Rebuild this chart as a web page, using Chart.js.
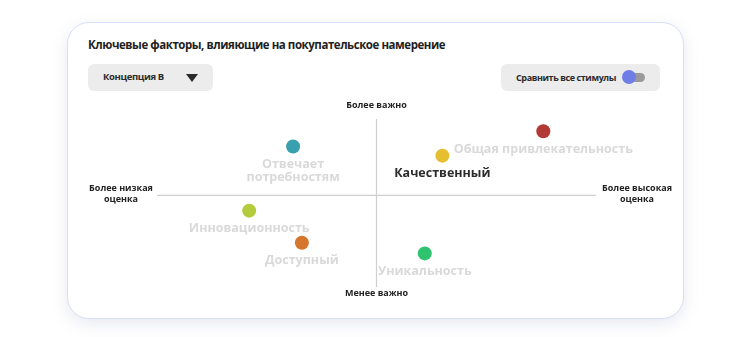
<!DOCTYPE html>
<html>
<head>
<meta charset="utf-8">
<script src="https://cdn.jsdelivr.net/npm/chart.js@4.4.1/dist/chart.umd.min.js"></script>
<style>
  html, body { margin: 0; padding: 0; background: #fff; width: 750px; height: 337px; overflow: hidden; }
  body { font-family: "Open Sans", "Noto Sans", sans-serif; position: relative; }
  .card {
    position: absolute; left: 67px; top: 22px; width: 615px; height: 295px;
    border: 1.5px solid #d8def8; border-radius: 22px; background: #fff;
    box-shadow: 0 5px 16px rgba(110, 120, 170, 0.16);
  }
  .title { position: absolute; left: 20px; top: 14px; font-size: 11.5px; font-weight: 700; color: #1e1e1e; letter-spacing: -0.45px; }
  .btn { position: absolute; top: 41px; height: 27px; background: #ececec; border-radius: 6px; }
  .drop { left: 20px; width: 125px; }
  .drop span { position: absolute; left: 15px; top: 6px; font-size: 9.5px; font-weight: 700; color: #2a2a2a; letter-spacing: -0.35px; }
  .drop i { position: absolute; left: 98px; top: 10px; width: 0; height: 0; border-left: 6px solid transparent; border-right: 6px solid transparent; border-top: 8px solid #2a2a2a; }
  .cmp { left: 433px; width: 159px; }
  .cmp span { position: absolute; left: 15px; top: 7px; font-size: 9px; font-weight: 700; color: #2a2a2a; letter-spacing: -0.4px; }
  .track { position: absolute; left: 124px; top: 9px; width: 20px; height: 9px; border-radius: 5px; background: #9a9a9a; }
  .knob { position: absolute; left: 121px; top: 6px; width: 14px; height: 14px; border-radius: 7px; background: #6f7ee6; }
  .wrap { position: absolute; left: 0; top: 73px; width: 615px; height: 221px; }
</style>
</head>
<body>
<div class="card">
  <div class="title">Ключевые факторы, влияющие на покупательское намерение</div>
  <div class="btn drop"><span>Концепция B</span><i></i></div>
  <div class="btn cmp"><span>Сравнить все стимулы</span><div class="track"></div><div class="knob"></div></div>
  <div class="wrap"><canvas id="quad"></canvas></div>
</div>
<script>
// factors: x = оценка, y = важность
const factors = [['Отвечает', 'потребностям'], ['Качественный'], ['Общая привлекательность'], ['Инновационность'], ['Доступный'], ['Уникальность']];
const scoreValues = [-1.9, 1.5, 3.8, -2.9, -1.7, 1.1];
const importanceValues = [3.2, 2.6, 4.2, -1.0, -3.1, -3.8];
const pointColors = ['#3a9fae', '#e6bf30', '#b13a35', '#b4cb3b', '#d5762c', '#2fc36f'];
const highlighted = 'Качественный';
const axisLabels = { top: ['Более важно'], bottom: ['Менее важно'], left: ['Более низкая', 'оценка'], right: ['Более высокая', 'оценка'] };

const FONT = '"Open Sans", "Noto Sans", sans-serif';

// quadrant lines, axis captions and point labels
const quadrantPlugin = {
    id: 'quadrant',
    beforeDatasetsDraw(chart) {
        const { ctx, chartArea: a, scales } = chart;
        const cx = scales.x.getPixelForValue(0);
        const cy = scales.y.getPixelForValue(0);
        ctx.save();
        ctx.strokeStyle = '#cfcfcf';
        ctx.lineWidth = 1.2;
        ctx.beginPath();
        ctx.moveTo(a.left, cy); ctx.lineTo(a.right, cy);
        ctx.moveTo(cx, a.top); ctx.lineTo(cx, a.bottom);
        ctx.stroke();

        ctx.fillStyle = '#222';
        ctx.font = '700 9px ' + FONT;
        ctx.textAlign = 'center';
        ctx.textBaseline = 'middle';
        ctx.fillText(axisLabels.top[0], cx, a.top - 14);
        ctx.fillText(axisLabels.bottom[0], cx, a.bottom + 6);
        axisLabels.left.forEach((t, i) => ctx.fillText(t, a.left - 36, cy - 7 + i * 11));
        axisLabels.right.forEach((t, i) => ctx.fillText(t, a.right + 41, cy - 7 + i * 11));

        const meta = chart.getDatasetMeta(0);
        meta.data.forEach((pt, i) => {
            const lines = factors[i];
            const strong = lines[0] === highlighted;
            ctx.fillStyle = strong ? '#2b2b2b' : '#d9d9d9';
            ctx.font = '700 12.5px ' + FONT;
            lines.forEach((t, j) => ctx.fillText(t, pt.x, pt.y + 18 + j * 13));
        });
        ctx.restore();
    }
};

new Chart(document.getElementById('quad'), {
    type: 'scatter',
    data: {
        datasets: [{
            data: scoreValues.map((v, i) => ({ x: v, y: importanceValues[i] })),
            backgroundColor: pointColors,
            borderWidth: 0,
            pointRadius: 7,
            pointHoverRadius: 7
        }]
    },
    options: {
        responsive: true,
        maintainAspectRatio: false,
        animation: false,
        layout: { padding: { left: 89, right: 87, top: 23, bottom: 30 } },
        scales: {
            x: { display: false, min: -5, max: 5 },
            y: { display: false, min: -6, max: 5 }
        },
        plugins: { legend: { display: false }, tooltip: { enabled: false } }
    },
    plugins: [quadrantPlugin]
});
</script>
</body>
</html>
